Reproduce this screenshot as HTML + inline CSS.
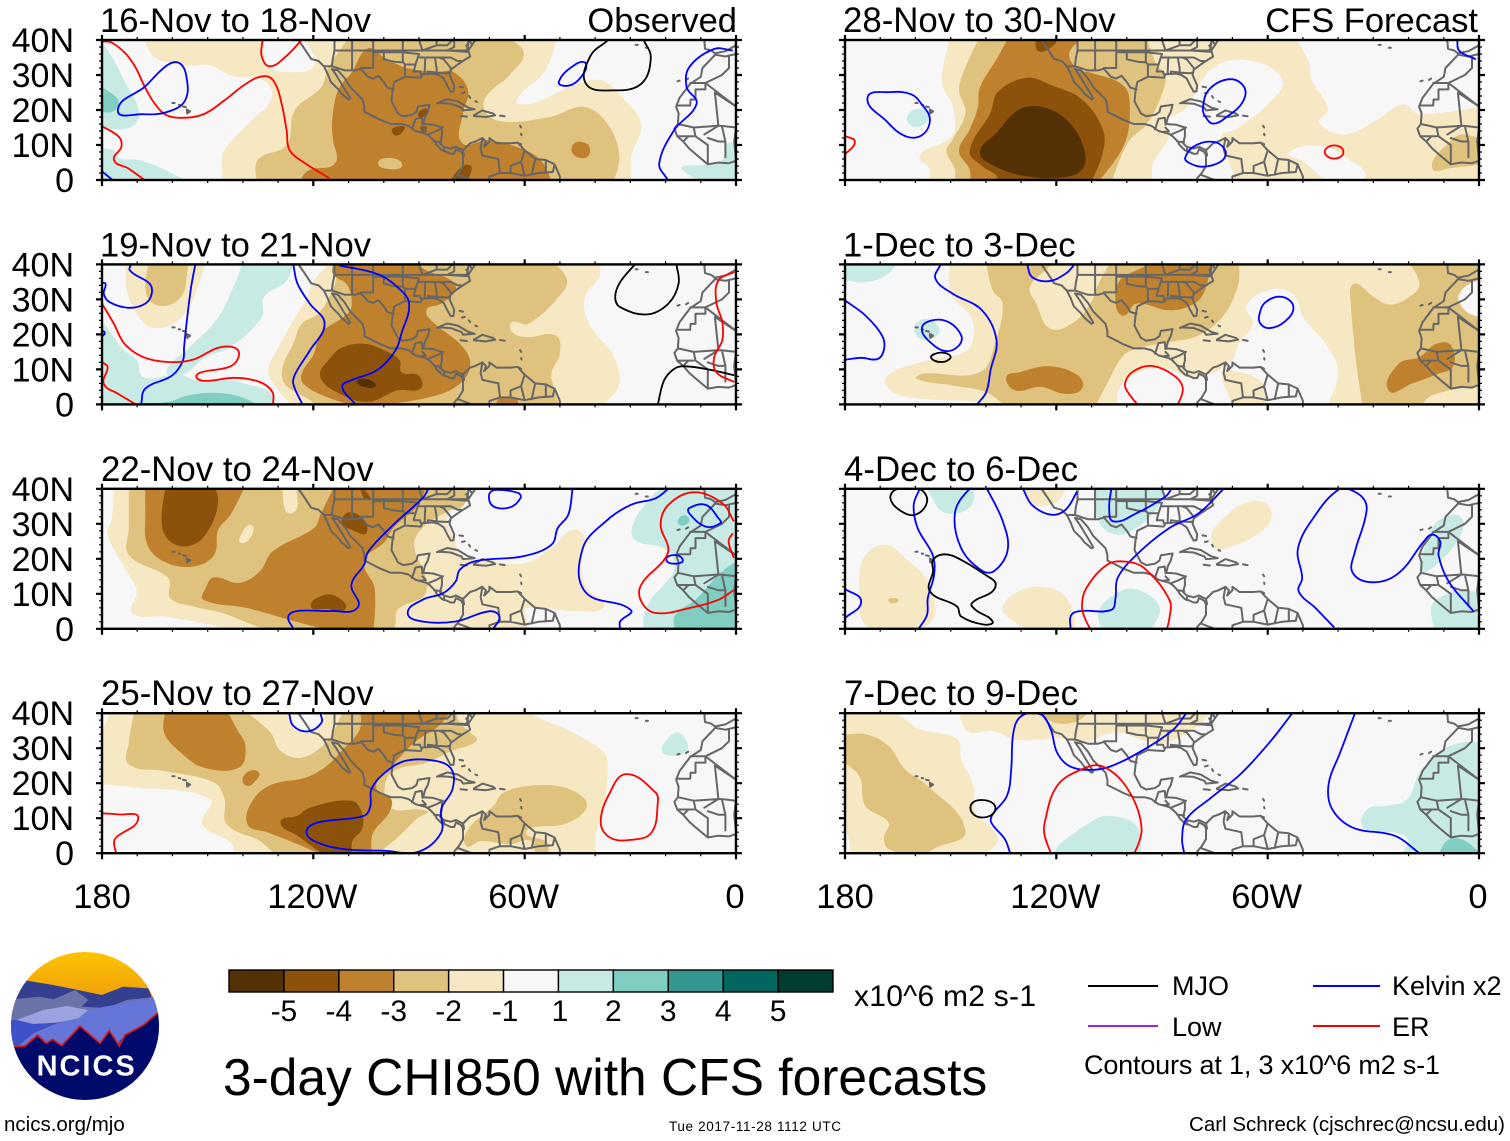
<!DOCTYPE html>
<html lang="en">
<head>
<meta charset="utf-8">
<title>3-day CHI850 with CFS forecasts</title>
<style>
html,body{margin:0;padding:0;background:#fff;width:1510px;height:1141px;overflow:hidden}
svg{display:block}
text{font-family:"Liberation Sans",Arial,sans-serif;fill:#000}
</style>
</head>
<body>
<svg id="chart" xmlns="http://www.w3.org/2000/svg" width="1510" height="1141" viewBox="0 0 1510 1141">
<defs>
<clipPath id="logo-clip"><circle cx="255" cy="258" r="222"/></clipPath>
<linearGradient id="sun" x1="0" y1="0" x2="0" y2="1"><stop offset="0" stop-color="#ffc400"/><stop offset="1" stop-color="#e8920f"/></linearGradient>
</defs>
<g id="panels"></g>
<text x="737" y="32" font-size="34.5" text-anchor="end">Observed</text>
<text x="1478" y="32" font-size="34.5" text-anchor="end">CFS Forecast</text>

<g transform="translate(0,940) scale(0.33333)">
<g clip-path="url(#logo-clip)">
<rect x="30" y="30" width="450" height="200" fill="url(#sun)"/>
<path d="M50,160 L80,122 L160,135 L225,148 L305,165 L370,140 L445,145 L490,260 L490,320 L20,320 L20,220 Z" fill="#34408f"/>
<path d="M28,240 L40,178 L120,170 L160,178 L225,150 L265,180 L245,200 L320,204 L380,180 L470,170 L490,230 L40,255Z" fill="#6a74a8"/>
<path d="M28,240 L50,240 L170,250 L110,290 L45,325 L25,300 Z" fill="#3f51c8"/>
<path d="M45,325 L100,280 L170,250 L235,235 L265,210 L340,195 L465,172 L490,220 L430,262 L360,300 L350,325 L180,330Z" fill="#6675d8"/>
<path d="M50,240 L130,210 L200,198 L265,210 L235,235 L170,248 L100,252 Z" fill="#9aa3e0"/>
<path d="M42,320 L75,318 L113,285 L138,310 L158,298 L185,317 L240,258 L300,310 L328,272 L358,318 L375,285 L430,255 L478,215 L490,490 L20,490Z" fill="#000a6b"/>
<path d="M42,320 L75,318 L113,285 L138,310 L158,298 L185,317 L240,258 L300,310 L328,272 L358,318 L375,285 L430,255 L478,215" fill="none" stroke="#e01818" stroke-width="5"/>
</g>
<text x="260" y="406" font-size="87" font-weight="bold" text-anchor="middle" letter-spacing="6" style="fill:#fff">NCICS</text>
</g>

<g id="colorbar"></g>
<text x="854" y="1006" font-size="30" textLength="182">x10^6 m2 s-1</text>
<text x="223" y="1095" font-size="51.5">3-day CHI850 with CFS forecasts</text>

<g>
<line x1="1088" y1="986" x2="1158" y2="986" stroke="#000" stroke-width="2"/>
<text x="1172" y="995" font-size="27">MJO</text>
<line x1="1088" y1="1026" x2="1158" y2="1026" stroke="#a020f0" stroke-width="2"/>
<text x="1172" y="1036" font-size="27">Low</text>
<line x1="1313" y1="986" x2="1380" y2="986" stroke="#0000ff" stroke-width="2"/>
<text x="1392" y="995" font-size="27">Kelvin x2</text>
<line x1="1313" y1="1026" x2="1380" y2="1026" stroke="#ff0000" stroke-width="2"/>
<text x="1392" y="1036" font-size="27">ER</text>
<text x="1084" y="1074" font-size="27" textLength="356">Contours at 1, 3 x10^6 m2 s-1</text>
</g>
<text x="4" y="1131" font-size="20.5">ncics.org/mjo</text>
<text x="669" y="1131" font-size="13.5" textLength="172">Tue 2017-11-28 1112 UTC</text>
<text x="1189" y="1131" font-size="20.5" textLength="316">Carl Schreck (cjschrec@ncsu.edu)</text>
</svg>

<script>
/* ---------- shared labels and colours ---------- */
const panelTitles = ['16-Nov to 18-Nov','19-Nov to 21-Nov','22-Nov to 24-Nov','25-Nov to 27-Nov','28-Nov to 30-Nov','1-Dec to 3-Dec','4-Dec to 6-Dec','7-Dec to 9-Dec'];
const latTicks = [40,30,20,10,0];
const latLabels = ['40N','30N','20N','10N','0'];
const lonTicks = [180,120,60,0];
const lonLabels = ['180','120W','60W','0'];
const colorbarLevels = [-5,-4,-3,-2,-1,1,2,3,4,5];
const levelColors = ['#543005','#8c510a','#bf812d','#dfc27d','#f6e8c3','#f7f7f7','#c7eae5','#80cdc1','#35978f','#01665e','#003c30'];
const waveColors = {MJO:'#000000',KELVIN:'#0000ff',ER:'#ff0000',LOW:'#a020f0'};

/* ---------- coastlines and borders: [lon deg W, lat] ---------- */
const coastlines = [
[[124.2,40],[122.5,37.5],[120.6,34.6],[118.5,34],[117,32.5],[116,30.5],[115,28],[113,26],[112,24.7],[110,23],[109.5,23.3],[110.5,25],[112,27.5],[113.5,30],[114.7,31.7],[113,31.3],[111,29],[109.5,26.5],[108,25],[106,23],[105.5,21],[105.5,19.5],[103.5,18.5],[101,17.2],[98,16],[95,16],[93,15.5],[91,14],[88,13.2],[87,12.5],[85.5,11],[85,10],[83.5,8.5],[82.5,8.2],[81,7.5],[80,7.5],[79.5,8.8],[78,8],[77.5,7],[77.5,4],[78.7,2],[80,0.5],[80,0]],
[[74,40],[75,38.5],[76,37],[75.5,35.3],[77.5,34],[79,33],[81,31.5],[81.3,30],[80,27],[80.2,25.3],[81,25.2],[82,27],[83,29],[84.5,30],[86,30.4],[89,30.2],[89.5,29.2],[91,29.3],[94,29.5],[97,28],[97.5,25.5],[97.8,22.5],[96,19],[94.5,18.2],[92,18.6],[90.7,19.5],[90.3,21],[87,21.5],[87.5,19.5],[88.3,18],[88.8,16],[86,15.8],[83.5,15],[83.5,12.5],[84,10.5],[83,9.5],[81,9],[79.5,9.5],[77.5,8.5],[75.5,10.5],[74,11],[72,12],[71,11],[71.5,9.5],[70,11],[70,12],[68,10.5],[64,10.5],[62,10.7],[60,8.5],[57,6],[54,5.7],[51.5,4.5],[50,1],[50,0]],
[[76,39.5],[76.3,38],[75.8,37.5]],[[75.5,39.5],[75,38.8]],[[73.5,40.6],[74.5,40]],[[74.2,40],[72.5,40.8]],[[76.6,38.4],[76,38.9],[76.4,37.2]],
[[114.7,32.5],[111,31.3],[108.2,31.3],[106.5,31.8],[104.5,29.5],[103,29],[101.5,29.8],[100,28],[99,26.4],[97.2,25.9]],
[[114.7,32.5],[117,32.5]],[[114,40],[114,37],[114.5,34.5],[114.7,32.5]],[[109,40],[109,31.3]],[[103,40],[103,32],[106.5,32]],[[114,37],[94.6,37],[89,37],[76,37]],
[[103,36.5],[100,36.5],[100,34.5],[97,33.8],[94.5,33.6],[94,33],[94,30]],[[100,36.5],[94.6,36.5],[94.6,33.6]],[[94.6,36.5],[90,36],[91,33],[94,33]],
[[91,33],[91.5,31],[89.7,31],[89.5,30.2]],[[88.2,35],[88.4,30.3]],[[85.5,35],[85,32],[85,30.7],[87.5,31],[87.5,30.3]],[[85,30.7],[82,30.5],[81.5,30.7]],
[[90,35],[84.3,35],[81,35],[79,34],[78,34]],[[84.3,35],[83,34.5],[81,32]],[[94.6,40],[94.6,37]],[[90,40],[89,37],[85,38.5],[82,38.5],[80.5,40]],[[85,40],[85,38.5]],[[80,40],[80,38],[82,37],[76,36.6]],
[[92,14.5],[91,17.5],[89.2,17.8],[89,15.8]],[[90,13.7],[88,13.9],[89,15]],[[87.5,13],[85,14],[83.2,15]],[[85.7,11],[83.7,10.8]],[[83,8.2],[82.8,9.5]],[[77.5,8.5],[77.2,7]],
[[72,12],[72.5,9],[72,7],[67.5,6],[67,2],[70,1],[70,0]],[[60,8.5],[61,5.2],[64,4],[64,2],[60,1.2],[56,2],[52,2.3],[51.5,4.5]],[[67,2],[64,2]],[[57,6],[58,1.5]],[[54,5.7],[54,2.3]],[[79,1.5],[75,0]],[[61,5.2],[60,1.2]],
[[9,40],[8.8,37.5],[7,37],[6,36.2],[3,36.8],[0,38.5]],[[5.9,35.8],[9.5,32],[10,29.5],[13,27.5],[16,23.5],[17,21],[16.3,19],[16.5,16],[17.5,14.7],[16.7,12.5],[15,11],[13.3,9],[11,7],[8,4.5],[5,5],[2,4.8],[0,5.5]],[[5.9,35.8],[3,35.3],[0,36]],
[[16.9,21.3],[13,21.3],[12.9,23],[11.5,23],[11.5,25.9],[8.7,25.9],[8.7,27.7],[13,27.7]],[[8.7,27.7],[0,21]],[[8.7,27.7],[4,30],[2,32],[2,35.3]],[[6,25],[5,15.5]],[[16.5,16],[12,15],[5,15.5],[3.5,15.4],[0,15]],[[12,15],[11.5,12.5],[8,10],[8,7.5]],[[4,15.4],[3,11],[3,6.5]],[[0,15],[0.5,11],[0,6]],[[8,12],[5,11],[3,11]],[[12,12.5],[16.7,12.5]],[[8,7.5],[8,4.5]],[[15,11],[13.5,12.5]],[[0,21],[6,25]],[[9,13],[5,15.5]],
[[84.9,21.9],[82,23.1],[79,22.5],[76,20.7],[74.2,20.2],[77.5,19.9],[78,20.7],[81,21.8],[84,22],[84.9,21.9]],[[74.4,18.5],[72,19.9],[69,19],[68.4,18.5],[71,18],[74.4,18.3],[74.4,18.5]],[[78.2,18.3],[76.4,18.1],[78.2,18.3]],[[67,18.4],[65.7,18.2],[67,18.4]],
[[160,22],[159.4,22]],[[158.2,21.5],[157.8,21.4]],[[157,21],[156.2,20.8]],[[155.9,20.1],[155,19.6],[155.8,19],[155.9,20.1]],
[[78.5,26.7],[77.5,26.5]],[[77.8,24.8],[77,25]],[[75.8,24],[75.5,23.5]],[[74,22.5],[73.5,22.3]],[[61.3,15.5],[61,15]],[[61,13.2],[60.9,12.8]],[[16.6,28.2],[16,28.4]],[[14.2,28.6],[13.6,29]],[[28.5,38.6],[27.9,38.6]],[[25.6,37.8],[25,37.8]],[[61.6,10.5],[61,10.2]]
];

/* ---------- CHI850 filled regions: [level, [[lon W, lat], ...]] ---------- */
const p1Fills = [
[-1,[[168,41],[168,40],[165,35],[156,32.7],[149.4,32.7],[142.6,29.6],[135,29],[131.7,23.7],[138.5,16.1],[145.3,8.5],[146,4.7],[145.6,-1],[29.7,-1],[29.7,6.6],[27,16.1],[32.4,23.7],[37.8,28.4],[44.6,27.5],[58.2,21.8],[62.3,22.7],[54.1,31.3],[50.7,41],[124.2,41],[119.5,33.2],[127.6,30.8],[133.3,33.2],[133.7,41]]],
[-2,[[135.8,-1],[135.8,5.7],[127.6,10],[125.3,19.9],[117.7,26.5],[115.9,31.8],[109.7,41],[65.9,41],[60.3,36.5],[64,30.3],[71.6,22.3],[67.8,17],[52.8,18],[43.3,20.9],[36.5,16.1],[33.1,6.6],[35.1,-1]]],
[-3,[[123.3,-1],[123.3,0.6],[121,2.9],[113.8,4.8],[114.4,11.4],[114.7,16.2],[113,25.7],[109,30.9],[105.9,36.6],[103.4,37.7],[100.2,35.2],[93.4,32],[84.9,30.9],[80.3,30.9],[76.1,25.7],[77.5,19.1],[77.8,10.6],[70.5,11.4],[61,9],[55.5,5.7],[52.1,-1]]],
[-3,[[46.7,8.5],[46,10.4],[44,10.9],[41.6,9.5],[42.2,6.6],[45.3,6.6]]],
[-2,[[101.6,4.8],[98.2,6.3],[94.8,4.3],[98.2,3.1]]],
[-4,[[97.7,14.3],[95.4,15.4],[94,14.9],[96.3,12.7]]],
[-4,[[90.3,18.6],[88.9,20.3],[87.5,20],[88.9,18]]],
[-4,[[89.7,14.9],[88.6,15.4],[87.7,14.9],[88.8,14]]],
[-4,[[80.6,0.6],[76.9,4.3],[75,3.4],[76.9,-1],[80.6,-1]]],
[1,[[182,41],[180,39.3],[176.6,34.1],[173.2,27.5],[169.8,20.9],[169.8,17],[173.2,14.7],[182,14.7]]],
[1,[[182,9],[176.6,8.5],[175.2,6.2],[169.8,5.7],[163,3.3],[155.5,-0.5],[182,-1]]],
[2,[[182,27.5],[176.6,24.2],[175.2,21.8],[177.3,19.4],[182,19.9]]],
[1,[[15.4,3.8],[9.2,4.3],[3.9,5.7],[2.5,10.4],[-1,10.4],[-1,-1],[9.2,-1],[14.7,2.4]]]
];
const p2Fills = [
[-1,[[173,41],[173,32.6],[169.5,25],[166,22],[160,23],[154.7,28.8],[150.6,41]]],
[-2,[[166.5,41],[167.7,33.5],[166,29.2],[161.2,28.3],[157,31.6],[155.9,37.3],[155.3,41]]],
[-1,[[114.5,41],[119.8,35.4],[122.2,29.7],[125.7,24],[130.4,15.4],[132.8,9.7],[130.4,4.5],[125,-1],[39.4,-1],[33.4,5],[34.6,13.5],[41.7,23],[42.9,30.7],[38.8,36.4],[38.8,41]]],
[-2,[[118,-1],[121,1.2],[128.1,5.9],[128.7,10.7],[125.7,17.3],[123.3,23],[118.6,25.9],[115,31.6],[113.5,36],[113.9,41],[52.4,41],[48.2,36.4],[48.8,32.6],[58.9,23],[63.6,23.5],[63.6,20.7],[59.5,19.2],[51.2,19.7],[50,14.5],[52.4,8.8],[51.2,3],[50,-1]]],
[-3,[[113.9,41],[114.5,37.3],[110.3,34],[109.2,27.8],[111.5,25],[118,20.2],[119.8,14.5],[123.3,8.8],[122.8,5.9],[117.4,2.6],[106.8,-1],[86.7,2.1],[78.4,5.9],[75.4,11.6],[78.4,17.3],[85.5,23],[87.9,26.9],[83.7,28.8],[79.6,32.6],[80.8,35.4],[87.9,38.3],[91.4,41]]],
[-3,[[67.7,1.2],[64.2,2.3],[62,1.2],[62.4,-1],[67.7,-1]]],
[-4,[[118,7.8],[115,13.5],[111.5,16.4],[105.6,17.3],[99.7,15.4],[95.5,12.6],[95,9.2],[90.2,8.3],[89.6,4.5],[96.1,4],[104.4,0.7],[111.5,2.6]]],
[-5,[[107.7,6.4],[105,7.3],[102.3,5.4],[104.4,4.8]]],
[1,[[139.9,41],[125.7,41],[127.5,35.4],[134,30.7],[134.6,25],[143.5,16.4],[150.6,13.5],[156.5,8.8],[161.2,8.3],[161.2,10.7],[154.1,17.3],[147,24.9],[142.3,34.5]]],
[1,[[182,26.9],[176.6,19.2],[173.6,15.4],[170.1,12.6],[168.3,7.8],[160.6,8.3],[158.8,8.8],[152.9,6.9],[147,7.3],[137.5,5.4],[131.6,3],[131.4,-1],[182,-1]]],
[2,[[174.2,-1],[174.2,0],[161.2,0.7],[156.5,2.3],[149.4,3.3],[142.3,2.6],[136.4,0.2],[136,-1]]]
];
const p3Fills = [
[-1,[[176.6,41],[177.2,31.6],[178.4,26.9],[172.4,15.4],[170.1,10.7],[171.3,4.5],[162.4,3.5],[149.4,1.2],[142.3,-1],[58.9,-1],[59.5,3],[59.5,5.9],[45.3,5],[38.2,5.4],[37.6,7.8],[42.3,11.6],[44.1,19.2],[42.9,25.9],[46.4,28.3],[52.4,23],[59.5,18.8],[68.9,19.2],[78.4,21.1],[79.6,24.9],[82,31.6],[76,41]]],
[-2,[[172.4,41],[172.4,28.8],[172.4,21.1],[161.2,14.5],[160.6,8.8],[154.1,6.4],[145.8,4.5],[135.2,0.4],[129.3,-1],[103.2,-1],[97.3,0.2],[96.1,5.4],[87.9,10.7],[91.4,24],[89,28.8],[82,33.5],[77.2,35.4],[76.6,41]]],
[-1,[[128.7,41],[128.1,34],[126.3,33],[124.5,35],[125.1,41]]],
[-1,[[141.1,25.4],[138.7,29.5],[136.9,28.8],[138.7,25],[140.5,24.5]]],
[-3,[[167.7,41],[167.7,33.5],[167.1,24],[162.4,19.2],[154.1,17.8],[148.2,21.1],[147,28.3],[143.5,32.6],[139.3,41]]],
[-3,[[150.6,11.6],[151.2,8.3],[138.7,5.9],[126.9,2.6],[119.8,0.7],[111.5,-1],[103,-1],[102.6,11.6],[105.6,19.2],[99.7,24.9],[97.3,28.8],[90.2,35.4],[87.9,41],[113.9,41],[118,32.6],[119.8,28.8],[131.6,22.1],[135.2,16.4],[141.1,13.1],[148.2,14.7]]],
[-4,[[161.8,41],[163,29.7],[160,24.5],[154.1,24],[149.4,28.8],[147,36.4],[148.2,41]]],
[-4,[[120.7,6.4],[117.4,9.5],[113.3,9.2],[110.9,5.7],[116.3,5.7]]],
[-4,[[111.8,31.6],[109.7,33.3],[105.6,31.1],[105,27.3],[108,27.8],[111.5,29.7]]],
[-4,[[106.8,41],[103.8,37.3],[105.6,37.3]]],
[1,[[20.4,41],[25.2,36.4],[29.3,29.7],[28.7,25.4],[19.8,22.6],[17.5,17.3],[20.4,12.6],[23.9,8.8],[26.3,3],[25.7,-1],[-1,-1],[-1,41]]],
[2,[[16.9,-1],[17.5,3.5],[11,8.8],[5,15.4],[0.6,18.8],[-1,18.8],[-1,-1]]],
[2,[[16.5,31.1],[14.5,32.4],[13.3,30.7],[15.7,29.5]]]
];
const p4Fills = [
[-1,[[177.2,41],[180.1,34],[182,19.7],[170.7,18.8],[149.4,15.4],[151.5,8.3],[143.5,3],[142.3,-1],[39.4,-1],[40,4],[37.6,13.5],[36.4,24],[37.6,28.8],[46.4,34.5],[57.1,39.2],[59.5,41],[116.8,41],[118,36.4],[121.6,34.5],[125.7,36.4],[127.5,41]]],
[-2,[[170.7,41],[172.4,31.6],[172.4,25.4],[162.4,23.5],[148.2,20.2],[145.2,15.4],[144.6,8.3],[135.2,3.5],[130.4,-1],[103,-1],[96.1,4.5],[90.8,9.7],[87.9,12.1],[98.3,13],[99.7,19.2],[97.3,23.5],[87.9,25.9],[80.8,29.2],[73.7,32.1],[75.4,34.5],[78.4,37.3],[79.6,41],[111.5,41],[113.9,35.4],[116.3,31.6],[123.3,27.3],[129.3,29.2],[132.2,34.5],[139.9,41]]],
[-2,[[76.6,2.1],[76,6.9],[68.9,13.5],[66,17.3],[57.1,19.4],[48.8,18.8],[42.9,15.4],[42.9,12.1],[48.8,8.3],[58.3,7.3],[59.5,5.4],[53.6,3],[53.6,-1],[57.1,-1],[58.3,3.5],[64.2,2.6],[72.5,3.5]]],
[-3,[[161.8,41],[162.4,34.5],[157.7,28.8],[151.2,24.5],[141.1,24.5],[139.3,30.7],[141.7,35.4],[144.6,41]]],
[-3,[[140.1,21.1],[138.1,23.5],[135.4,23],[136.4,20.7],[138.7,19.2]]],
[-3,[[138.7,8.3],[137,15.4],[131.6,19.7],[122.2,21.6],[116.3,24.9],[111.5,29.7],[106.8,35.4],[106.8,41],[80.8,41],[84.3,36.4],[91.4,31.6],[97.3,25.4],[100.9,22.1],[102,18.3],[97.9,15.4],[98.5,11.6],[103.2,5.4],[103.2,-1],[116.3,-1],[124.5,2.6],[132.8,5.9]]],
[-4,[[129.3,8.8],[124.5,10.7],[121,13],[109.2,15],[106.2,11.6],[106.2,6.9],[108.9,3.5],[108.9,-1],[116.3,-1],[124.5,5]]],
[1,[[21,29.2],[18.7,33.5],[16.3,34.5],[13.9,31.6],[13.9,29.2],[17.5,27.8]]]
];
const p5Fills = [
[-1,[[150,41],[152.3,31.6],[152.3,26.9],[149.4,21.1],[148.8,14.5],[150.6,11.6],[158.8,6.9],[155.9,3],[156.5,-1],[-1,-1],[-1,21.1],[16.9,18.8],[21.6,21.6],[28.7,17.3],[38.2,13],[45.3,16.4],[42.9,20.2],[47.6,28.8],[48.2,33.5],[52.4,41]]],
[0,[[92.6,-1],[92.6,4.5],[87.9,12.6],[89,16.4],[83.1,20.7],[76,31.6],[66,34.3],[55.9,28.8],[59.5,22.1],[68.9,14.5],[73.1,12.6],[70.1,3],[68.9,-1]]],
[0,[[54.1,7.8],[44.1,9.7],[37,5.9],[32.3,2.1],[33.4,-1],[42.9,-1],[50,5.4]]],
[-2,[[141.7,41],[146.4,30.7],[147.6,25.4],[145.8,19.2],[149.4,11.6],[151.2,8.3],[148.8,3],[149,-1],[104.4,-1],[99.7,10.7],[94.4,15.9],[90.2,24],[89,30.2],[91.4,32.6],[94.4,41]]],
[-2,[[13.3,3.5],[8.6,10.7],[5,13],[-1,11.6],[-1,4.5],[7.4,3.5]]],
[-3,[[133.4,41],[137,34.5],[141.7,26.4],[142.3,20.7],[144.6,14.5],[147.6,8.3],[144.6,3],[144.6,-1],[108.6,-1],[100.9,9.7],[99.1,20.2],[100.9,26.9],[110.3,30.7],[113.9,31.6],[116.3,36.4],[111.5,41]]],
[-4,[[125.7,41],[125.1,36.8],[120.4,38.8],[119.8,41]]],
[-4,[[144.6,8.3],[138.7,19.2],[136.4,25.4],[128.1,29.2],[121,26.9],[112.7,23],[106.8,14.5],[106.8,7.8],[110.3,-1],[137,-1],[137,1.2],[141.1,4]]],
[-5,[[141.7,7.8],[137,13.5],[130.4,20.2],[123.3,20.7],[116.3,16.4],[112.1,8.8],[112.7,3],[118.6,0.7],[129.3,1.2],[137.5,4]]],
[1,[[162.4,17.3],[160.6,20],[157,19.7],[156.5,16.9],[160,15.2]]]
];
const p6Fills = [
[-1,[[150,41],[150,31.6],[144,24.5],[144,17.3],[147,14.5],[156.5,12.6],[168.3,7.8],[166.5,3.5],[157.7,1.6],[142.3,0.7],[135.2,-1],[-1,-1],[-1,41]]],
[0,[[58.3,33],[52.4,31.1],[50,25],[42.9,16.4],[40,8.8],[43.5,-1],[60.6,-1],[61.2,5.9],[70.1,9.7],[73.1,8.8],[70.1,0.2],[70.1,-1],[102.1,-1],[102.7,3],[99.7,7.3],[91.4,10.7],[82,7.8],[77.2,8.3],[70.1,12.6],[68.3,17.3],[64.2,23],[66,28.3]]],
[-2,[[139.9,41],[138.1,32.6],[135.2,28.8],[137.5,17.3],[141.7,9.2],[157.7,8.8],[159.7,7.3],[149.4,5.4],[139.9,3.5],[134,-1],[109.2,-1],[105.6,5.9],[100.9,14],[96.1,16.2],[87.9,17.8],[79.6,19.7],[72.5,25.4],[68.3,34.5],[68.3,41],[104.4,41],[108,34.5],[110.3,28.8],[115,23.5],[121.6,21.6],[125.7,28.8],[127.5,33.5],[122.2,39.2],[121,41]]],
[-2,[[36.4,33.5],[34.6,34.5],[29.9,30.7],[25.2,28.5],[19.8,30.7],[16.9,34.5],[20.4,41],[-1,41],[-1,5.4],[0.3,5.4],[13.3,2.6],[16.9,-1],[32.9,-1],[34.6,9.7],[35.8,21.1],[36.4,28.8]]],
[0,[[5.6,31.6],[2.7,34.5],[-1,35.4],[-1,25],[2.7,25.9],[5.6,29.2]]],
[-3,[[103.2,28.8],[102,35.4],[97.3,38.3],[90.8,41],[76,41],[77.8,32.6],[80.8,28.8],[87.9,26.9],[97.3,28.8],[100.9,25.4]]],
[-3,[[134.2,7.8],[130.4,9.2],[122.2,10.9],[113.9,8.3],[112.7,4.5],[117.4,3],[124.5,5],[131.6,4]]],
[-3,[[25.7,4],[22.8,11.6],[16.9,13.5],[12.1,17.3],[8,16.9],[7.4,10.7],[11.5,8.8],[19.2,5.9]]],
[1,[[182,41],[164.8,41],[168.3,36.9],[174.2,34.9],[179.5,35.4],[182,36]]],
[1,[[160.3,21.6],[158.8,24],[155.3,24],[153.2,20.7],[155.9,18.8],[158.8,18.8]]]
];
const p7Fills = [
[-1,[[176,12.6],[174.2,21.1],[168.3,24],[162.4,19.7],[157.1,14.5],[154.3,5.4],[156.5,1.2],[163.6,-1],[174.2,1.2]]],
[-2,[[167.7,8.1],[166.3,8.8],[164.8,8.1],[166.3,7.3]]],
[-1,[[135.2,6.4],[131.6,10.2],[125.1,12.1],[118.6,10.2],[115,4.5],[115,-1],[126.9,-1],[134,3.5]]],
[-1,[[76,26.9],[72.5,31.6],[66.6,35.9],[60.6,35.9],[58.9,32.1],[61.8,27.8],[70.1,23.5],[74.8,23]]],
[-1,[[129.9,41],[126.3,35.4],[119.8,36.4],[116.8,41]]],
[1,[[157,41],[153.5,34.5],[149.4,32.8],[144,35.4],[143.5,41]]],
[1,[[109.2,41],[108,30.7],[103.2,26.9],[97.3,28.8],[91.4,34.5],[89,41]]],
[1,[[108,5],[102,10.7],[96.7,11.1],[90.8,6.4],[92.6,0.7],[95,-1],[106.8,-1]]],
[1,[[16.3,16.4],[13.3,28.8],[7.4,32.6],[4.4,30.7],[6.2,24.9],[13.3,17.3]]],
[1,[[13.3,6.9],[9.7,9.7],[5,10.7],[0.3,9.7],[-1,-1],[12.1,-1],[13.3,2.1]]]
];
const p8Fills = [
[-1,[[182,41],[165.9,39.7],[158.8,35.4],[148.2,32.6],[147,26.9],[143.5,19.2],[142.9,11.6],[136.6,4],[142.3,-1],[178.4,-1],[179.5,5.4],[182,5.9]]],
[-1,[[147.6,41],[145.2,34.9],[137.5,34.9],[131.6,32.4],[118.6,32.8],[112.7,31.6],[103.2,34.5],[94.9,32.1],[89,31.6],[79.6,36.4],[76,41]]],
[-2,[[125.7,41],[120.4,37.3],[113.9,37.8],[110.3,41]]],
[-2,[[182,33.5],[174.2,34],[167.7,30.7],[163,24],[156.5,19.2],[145.8,6.4],[154.1,1.6],[158.8,-1],[167.7,1.2],[168.9,4.5],[167.7,8.8],[174.2,13.5],[176,22.1],[182,26.9]]],
[1,[[120.4,0.7],[118.6,3],[110.3,8.8],[105.6,10.7],[97.3,7.8],[96.1,-1],[121,-1]]],
[1,[[33.4,9.7],[31,13],[26.3,13.5],[20.4,15.4],[16.9,23],[11,29.2],[5,31.6],[-1,31.6],[-1,-1],[22.8,-1],[20.4,4.5],[32.3,6.9]]],
[2,[[11.5,-1],[9.2,3.5],[5,4],[0.9,1.2],[-1,-1]]]
];

/* ---------- wave contours: [wave, closed, [[lon W, lat], ...]] ---------- */
const p1Contours = [
['ER',0,[[180,39.6],[177.3,39.3],[173.2,36],[170.5,32.2],[167.8,26.5],[165,21.8],[161.6,18.5],[156.1,17.8],[150.7,19],[145.3,22.7],[138.5,27.9],[133.7,29.7],[131,27.9],[129,21.8],[127.6,14.2],[126.7,8.5],[122.2,4.7],[115.4,0.5]]],
['ER',0,[[134.4,40],[134.7,35.5],[132.4,32.5],[127.6,35.5],[123.5,39.8]]],
['ER',0,[[180,15.4],[175.2,12.3],[174.5,9.5],[176.6,5.7],[172.5,3.3],[168.2,0.2]]],
['KELVIN',1,[[175.5,19.9],[167.8,26.7],[161.6,32.7],[158.2,33.5],[156.1,29.9],[156.4,22.7],[161.6,19.4],[168.4,18.8]]],
['KELVIN',1,[[50.3,28],[45.3,33.2],[42.6,33.2],[44,29.4],[47.3,27]]],
['MJO',0,[[36.5,39.8],[41.3,35.5],[42.6,27.5],[35.1,25.6],[26.9,27.5],[24.2,35],[26.2,40]]],
['KELVIN',0,[[0.9,37],[6.3,37.4],[13.3,32.2],[14,26.5],[11.2,21.8],[17.6,14.2],[21.8,4.7],[19.5,0.2]]],
['KELVIN',0,[[180,2.5],[177,0]]]
];
const p2Contours = [
['KELVIN',0,[[171.3,40.5],[172.1,38.3],[166.5,34.5],[165.9,31.6],[167.7,28.8],[172.4,27.6],[177.8,29.2],[179.5,31.6],[179,34.5],[180.5,34.5]]],
['KELVIN',0,[[153.5,40],[154.7,33.5],[155.9,24],[156.7,16.4],[157,12.6],[160,8.3],[167.7,4.5],[168.9,0]]],
['KELVIN',0,[[180,21.2],[179.2,20.4],[180,19.4]]],
['ER',0,[[180,28.8],[176.6,23],[173.6,17.3],[168.3,13.5],[161.2,12.1],[154.1,12.8],[147,16.2],[142.3,16.2],[141.1,14],[143.5,10.9],[151.7,9.2],[153.2,7.8],[150.6,6.7],[142.3,7.6],[135.2,6.4],[131.6,3.5],[131.4,0]]],
['ER',0,[[180,12.1],[178.4,10.7],[179.5,5.9],[175.4,3],[170.7,0.2]]],
['KELVIN',0,[[125.7,40],[124.5,34.5],[121,28.8],[116.8,23],[121,15.4],[125.1,8.8],[125.7,5.9],[123.1,0]]],
['KELVIN',0,[[112.7,39.7],[102,37.3],[96.1,33.5],[92.8,28.8],[95,20.2],[96.7,15.4],[102,9.7],[109.2,6.9],[111.8,5],[108,0]]],
['MJO',0,[[28.7,40],[32.9,34.9],[34.3,30.7],[32.9,27.8],[25.2,25.7],[19.2,28.8],[16.3,34.5],[16.9,40]]],
['MJO',0,[[22.2,0],[20.4,6.9],[17.5,10.2],[14.5,10.9],[7.4,9.9],[0.5,8.3]]],
['ER',0,[[0.5,37.8],[5,35.4],[5.6,29.2],[3.9,23.5],[3.9,18.3],[6.2,13.5],[5.6,9.2],[0.5,6.4]]]
];
const p3Contours = [
['KELVIN',0,[[125.7,0],[127.1,3.5],[124.5,5.1],[115,5.1],[107.4,6.1],[109.2,12.6],[105.6,18.3],[104.4,22.1],[97.3,29.7],[89,37.3],[87.3,40]]],
['KELVIN',0,[[68.9,0],[67.2,3.5],[70.1,5],[79.6,2.1],[89,2.1],[93.2,4.5],[89,8.3],[83.1,10.2],[79.6,13.5],[78.4,16.9],[73.7,19.4],[60.6,20.7],[52.4,24],[50.6,28.8],[47.6,32.6],[46.4,40]]],
['KELVIN',1,[[70.1,38.3],[68.3,39.7],[61.8,38.8],[61.2,37.3],[64.2,34.7],[68.9,35]]],
['KELVIN',0,[[19.2,40],[22.8,37.3],[29.9,35.4],[37,30.7],[43.5,23],[42.9,10.7],[29.9,5.4],[32.9,2.1],[32.9,0]]],
['KELVIN',1,[[19.8,19.7],[17.5,21.1],[15.1,19.7],[16.9,18.6]]],
['KELVIN',1,[[13.3,34.5],[8.6,35.4],[5,31.6],[4.4,30.2],[8.6,29.2],[13.3,33]]],
['ER',0,[[0.6,30.7],[3.9,35.9],[12.1,39],[19.2,35.4],[21.4,29.7],[19.2,23],[20.4,19.7],[26.9,12.6],[26.9,7.8],[22.8,4.5],[13.3,5.9],[5,8.3],[0.6,11.1]]],
['ER',0,[[0.9,27.3],[2.1,25],[0.6,20.2]]]
];
const p4Contours = [
['ER',0,[[180,11.4],[175.4,11.1],[169.7,10],[176,4.5],[176.6,3],[176,0]]],
['ER',1,[[31.1,22.6],[22.8,17.3],[22.2,14.5],[24,5.9],[29.9,3.8],[35.8,4.5],[38.4,8.8],[35.8,17.3]]],
['KELVIN',0,[[126.9,40],[125.7,36.4],[121.6,34.8],[117.7,37.3],[118,40]]],
['KELVIN',1,[[121.9,6.4],[118.6,8.8],[105.6,10.7],[103.8,13.5],[103.5,18.3],[99.7,23],[93.8,26.4],[85.5,26.4],[80.8,24],[80.5,18.3],[83.7,12.6],[83.7,5.9],[90.2,0.4],[99.7,0.7],[111.5,1.2],[119.8,3.5]]]
];
const p5Contours = [
['KELVIN',1,[[173.6,23.5],[167.1,25.1],[161.2,24.5],[158.2,21.6],[155.9,17.3],[158.2,12.8],[163,12.6],[168.3,16.9]]],
['ER',0,[[180,12.6],[177.2,10.9],[180,7.3]]],
['KELVIN',1,[[78.4,20.7],[76.6,25.9],[70.7,28.8],[66.6,26.4],[67.2,22.1],[71.3,18.3],[75.4,16.1],[77.8,18.3]]],
['KELVIN',1,[[83.4,6.4],[80.8,9.7],[75.4,10.9],[72,8.3],[73.1,5.4],[78.4,3.8],[82.5,5]]],
['ER',1,[[43.8,8],[43,9.3],[41.1,9.9],[39.2,9.3],[38.5,8],[39.2,6.7],[41.1,6.1],[43,6.7]]],
['KELVIN',0,[[6.2,40],[5.6,36.9],[0.9,34.5]]]
];
const p6Contours = [
['KELVIN',0,[[152.9,40],[154.3,35.9],[149.4,31.6],[141.1,26.9],[137,18.3],[138.7,9.7],[139.9,3.5],[142.5,0]]],
['KELVIN',0,[[180,29.7],[174.2,25.4],[169.5,19.7],[168.9,15.9],[170.7,13],[175.4,13.3],[180,12.8]]],
['KELVIN',1,[[158.2,21.6],[155.3,24],[150.6,23.5],[147,19.7],[147.6,16.9],[151.2,15.2],[155.3,17.3]]],
['MJO',1,[[155.6,13.5],[154.6,14.4],[152.9,14.8],[151,14.5],[150,13.5],[151,12.5],[152.3,12.1],[154.4,12.4]]],
['KELVIN',0,[[128.3,40],[126.9,36.4],[122.2,35.2],[117.4,37.3],[114.8,40]]],
['KELVIN',1,[[62.4,25.4],[60.6,29.2],[55.9,30.7],[52.7,27.8],[55.3,23.5],[59.5,21.8],[62,23]]],
['ER',1,[[100.5,5.9],[98.5,9.2],[93.2,11],[86.7,8.3],[84.1,4.5],[86.1,-1],[96.1,-1],[99.7,3.5]]]
];
const p7Contours = [
['MJO',1,[[167.1,37.3],[165.3,39.9],[158.8,39.9],[156.7,36.4],[160,32.6],[164.2,33.7]]],
['KELVIN',0,[[158.8,40],[160.5,35.4],[159.4,28.8],[155.1,21.1],[154.7,15.4],[156.5,8.8],[156.7,4],[159.1,0]]],
['KELVIN',0,[[180,11.4],[175.4,7.8],[180,3]]],
['KELVIN',1,[[144.9,39.7],[148.8,33],[147,23],[141.1,16.6],[137.5,16.6],[133.8,22.6],[135.2,30.7],[139.3,39.2],[141,41.5]]],
['MJO',1,[[155,19.7],[151.7,21.3],[147,19.7],[139.5,15],[137.5,13.5],[137.3,12],[138.6,10.3],[144,7.3],[142.9,5.4],[138.1,2.1],[140.5,1.2],[147,3.5],[148.2,6.4],[155.9,10.7],[155,16.4]]],
['KELVIN',0,[[129.5,40],[126.9,35.4],[121.6,32.6],[117.4,34],[114.1,39.2]]],
['KELVIN',0,[[104.4,40],[105,34.5],[103.8,30.7],[97.3,33],[89,37.8],[87.3,40]]],
['KELVIN',0,[[116,0],[115.7,4],[112.7,5.1],[104.4,5.4],[103.2,8.8],[102.6,14.5],[97.3,21.1],[87.9,28.8],[79.6,33],[72.5,40]]],
['ER',1,[[112.7,6.9],[111.5,11.6],[105.6,18.3],[100.3,19.2],[95,17.3],[87.9,8.3],[87.9,3],[89,-1.2],[109.7,-1.2],[112.1,3.5]]],
['KELVIN',0,[[41.1,0.4],[46.4,5.9],[51.2,10.7],[50.2,14.5],[51.4,23],[46.4,32.6],[40,39.7],[36.4,39.7],[32.3,36.4],[32.3,31.6],[35.2,22.1],[35.8,15.9],[29.9,13.3],[22.8,15.9],[15.7,24.9],[13.3,26.9],[11,24.9],[11.5,21.1],[8.6,13.5],[1.5,4.9]]]
];
const p8Contours = [
['KELVIN',0,[[133.1,0],[134.6,4],[138.5,8.8],[138.1,11.1],[134,16.4],[132.8,24],[132.2,34.5],[129.9,39.2],[124.5,39.7],[121.6,35.4],[119.8,28.8],[116.3,24.9],[110.3,23.8],[104.4,24.9],[95,29.7],[86.7,35.4],[83.1,40]]],
['MJO',1,[[144.4,13],[143.4,14.7],[141.1,15.2],[138.5,14.6],[137.3,13],[138.3,11],[141.1,10.2],[143.4,11]]],
['ER',1,[[123.3,8.8],[119.8,19.2],[112.7,24],[106.8,24.8],[99.7,18.3],[95.8,6.9],[98.5,-1.2],[121,-1.2],[123.3,5]]],
['KELVIN',0,[[83.7,0],[84.3,4],[83.1,9.7],[76,15.9],[67.7,22.6],[59.5,31.6],[53,40]]],
['KELVIN',0,[[35.2,40],[39.4,28.8],[42.7,19.7],[41.7,12.6],[35.8,7.3],[24,5],[16.9,0]]]
];
const panelFills = [p1Fills,p2Fills,p3Fills,p4Fills,p5Fills,p6Fills,p7Fills,p8Fills];
const panelContours = [p1Contours,p2Contours,p3Contours,p4Contours,p5Contours,p6Contours,p7Contours,p8Contours];

/* ---------- axis functions ---------- */
const NS = 'http://www.w3.org/2000/svg';
const plotW = 634, plotH = 140;
const panelLeft = col => 102 + col * 743;
const panelTop = row => 40 + row * 224.4;
const xScale = (col, lon) => panelLeft(col) + (180 - lon) / 180 * plotW;
const yScale = (row, lat) => panelTop(row) + (40 - lat) / 40 * plotH;
const levelColor = level => levelColors[level + 5];

/* Chord-scaled Catmull-Rom: long edges do not overshoot; points outside the plot frame stay sharp corners. */
function smoothPath(points, closed, col, row) {
  const n = points.length;
  const at = i => closed ? points[(i + n) % n] : points[Math.max(0, Math.min(n - 1, i))];
  const left = panelLeft(col), right = left + plotW, top = panelTop(row), bottom = top + plotH;
  const outside = p => p[0] < left - 0.5 || p[0] > right + 0.5 || p[1] < top - 0.5 || p[1] > bottom + 0.5;
  const tangent = i => {
    const p = at(i);
    if (outside(p)) return [0, 0];
    const a = at(i - 1), b = at(i + 1);
    const dx = b[0] - a[0], dy = b[1] - a[1];
    const len = Math.hypot(dx, dy) || 1;
    return [dx / len, dy / len];
  };
  let d = 'M' + points[0][0].toFixed(1) + ' ' + points[0][1].toFixed(1);
  const segs = closed ? n : n - 1;
  for (let i = 0; i < segs; i++) {
    const p1 = at(i), p2 = at(i + 1);
    const seg = Math.hypot(p2[0] - p1[0], p2[1] - p1[1]) * 0.36;
    const t1 = tangent(i), t2 = tangent(i + 1);
    d += 'C' + (p1[0] + t1[0] * seg).toFixed(1) + ' ' + (p1[1] + t1[1] * seg).toFixed(1) + ' ' +
         (p2[0] - t2[0] * seg).toFixed(1) + ' ' + (p2[1] - t2[1] * seg).toFixed(1) + ' ' +
         p2[0].toFixed(1) + ' ' + p2[1].toFixed(1);
  }
  return d + (closed ? 'Z' : '');
}

function tickPath(col, row) {
  const l = panelLeft(col), r = l + plotW, t = panelTop(row), b = t + plotH;
  let minor = '', major = '';
  for (let lon = 0; lon <= 180; lon += 10) {
    const x = xScale(col, lon).toFixed(1);
    if (lon % 60 === 0) major += 'M' + x + ' ' + (t - 5) + 'V' + t + 'M' + x + ' ' + b + 'V' + (b + 6);
    else minor += 'M' + x + ' ' + (t - 3) + 'V' + t + 'M' + x + ' ' + b + 'V' + (b + 3);
  }
  for (let lat = 0; lat <= 40; lat += 2) {
    const y = yScale(row, lat).toFixed(1);
    if (lat % 10 === 0) major += 'M' + (l - 6) + ' ' + y + 'H' + l + 'M' + r + ' ' + y + 'H' + (r + 6);
    else minor += 'M' + (l - 3) + ' ' + y + 'H' + l + 'M' + r + ' ' + y + 'H' + (r + 3);
  }
  return {minor, major};
}

/* ---------- render panels ---------- */
const root = document.getElementById('panels');
panelTitles.forEach((title, idx) => {
  const col = idx < 4 ? 0 : 1, row = idx % 4;
  const px = (lon, lat) => [xScale(col, lon), yScale(row, lat)];
  const g = document.createElementNS(NS, 'g');
  
  
  root.appendChild(g);

  const clip = document.createElementNS(NS, 'clipPath');
  clip.setAttribute('id', 'clip-' + idx);
  const clipRect = document.createElementNS(NS, 'rect');
  clipRect.setAttribute('x', panelLeft(col));
  clipRect.setAttribute('y', panelTop(row));
  clipRect.setAttribute('width', plotW);
  clipRect.setAttribute('height', plotH);
  clip.appendChild(clipRect);
  g.appendChild(clip);

  const bg = document.createElementNS(NS, 'rect');
  
  
  bg.setAttribute('x', panelLeft(col));
  bg.setAttribute('y', panelTop(row));
  bg.setAttribute('width', plotW);
  bg.setAttribute('height', plotH);
  bg.setAttribute('fill', levelColor(0));
  g.appendChild(bg);

  const inner = document.createElementNS(NS, 'g');
  
  
  inner.setAttribute('clip-path', 'url(#clip-' + idx + ')');
  g.appendChild(inner);

  panelFills[idx].forEach(shape => {
    const p = document.createElementNS(NS, 'path');
    
    
    p.setAttribute('d', smoothPath(shape[1].map(c => px(c[0], c[1])), true, col, row));
    p.setAttribute('fill', levelColor(shape[0]));
    inner.appendChild(p);
  });

  const coast = document.createElementNS(NS, 'path');
  
  
  coast.setAttribute('d', coastlines.map(line => 'M' + line.map(c => px(c[0], c[1]).map(v => v.toFixed(1)).join(' ')).join('L')).join(''));
  coast.setAttribute('fill', 'none');
  coast.setAttribute('stroke', '#666666');
  coast.setAttribute('stroke-width', '2');
  coast.setAttribute('stroke-linejoin', 'round');
  coast.setAttribute('stroke-linecap', 'round');
  inner.appendChild(coast);

  panelContours[idx].forEach(item => {
    const p = document.createElementNS(NS, 'path');
    
    
    p.setAttribute('d', smoothPath(item[2].map(c => px(c[0], c[1])), !!item[1], col, row));
    p.setAttribute('fill', 'none');
    p.setAttribute('stroke', waveColors[item[0]]);
    p.setAttribute('stroke-width', '1.8');
    inner.appendChild(p);
  });

  const frame = document.createElementNS(NS, 'rect');
  
  
  frame.setAttribute('x', panelLeft(col));
  frame.setAttribute('y', panelTop(row));
  frame.setAttribute('width', plotW);
  frame.setAttribute('height', plotH);
  frame.setAttribute('fill', 'none');
  frame.setAttribute('stroke', '#000');
  frame.setAttribute('stroke-width', '2.4');
  g.appendChild(frame);

  const ticks = tickPath(col, row);
  const minorTicks = document.createElementNS(NS, 'path');
  
  
  minorTicks.setAttribute('d', ticks.minor);
  minorTicks.setAttribute('stroke', '#000');
  minorTicks.setAttribute('stroke-width', '1.2');
  g.appendChild(minorTicks);
  const majorTicks = document.createElementNS(NS, 'path');
  
  
  majorTicks.setAttribute('d', ticks.major);
  majorTicks.setAttribute('stroke', '#000');
  majorTicks.setAttribute('stroke-width', '2.2');
  g.appendChild(majorTicks);

  const titleEl = document.createElementNS(NS, 'text');
  
  
  titleEl.setAttribute('x', panelLeft(col) - 2 + (/^(22|25|4-|7-)/.test(title) ? 1 : 0));
  titleEl.setAttribute('y', panelTop(row) - 8);
  titleEl.setAttribute('font-size', /^(22|25|28|4-|7-)/.test(title) ? '34.8' : '34.6');
  titleEl.textContent = title;
  g.appendChild(titleEl);

  if (col === 0) {
    latTicks.forEach((lat, i) => {
      const t = document.createElementNS(NS, 'text');
      
      
      t.setAttribute('x', 74);
      t.setAttribute('y', yScale(row, lat) + 12);
      t.setAttribute('font-size', '34');
      t.setAttribute('text-anchor', 'end');
      t.textContent = latLabels[i];
      g.appendChild(t);
    });
  }
  if (row === 3) {
    lonTicks.forEach((lon, i) => {
      const t = document.createElementNS(NS, 'text');
      
      
      t.setAttribute('x', xScale(col, lon) - (i ? 1 : 0));
      t.setAttribute('y', 908);
      t.setAttribute('font-size', '34.5');
      t.setAttribute('text-anchor', 'middle');
      t.textContent = lonLabels[i];
      g.appendChild(t);
    });
  }
});

/* ---------- colour bar ---------- */
const cb = document.getElementById('colorbar');
const cbLeft = 229, cbWidth = 604, cbTop = 970, cbHeight = 22;
const boxW = cbWidth / levelColors.length;
levelColors.forEach((color, i) => {
  const r = document.createElementNS(NS, 'rect');
  
  
  r.setAttribute('x', cbLeft + i * boxW);
  r.setAttribute('y', cbTop);
  r.setAttribute('width', boxW);
  r.setAttribute('height', cbHeight);
  r.setAttribute('fill', color);
  r.setAttribute('stroke', '#000');
  r.setAttribute('stroke-width', '1.4');
  cb.appendChild(r);
});
colorbarLevels.forEach((value, i) => {
  const t = document.createElementNS(NS, 'text');
  
  
  t.setAttribute('x', cbLeft + (i + 1) * boxW + (Math.abs(value) === 1 ? 1.5 : 0));
  t.setAttribute('y', 1021);
  t.setAttribute('font-size', '30');
  t.setAttribute('text-anchor', 'middle');
  t.textContent = String(value);
  cb.appendChild(t);
});
</script>
</body>
</html>
